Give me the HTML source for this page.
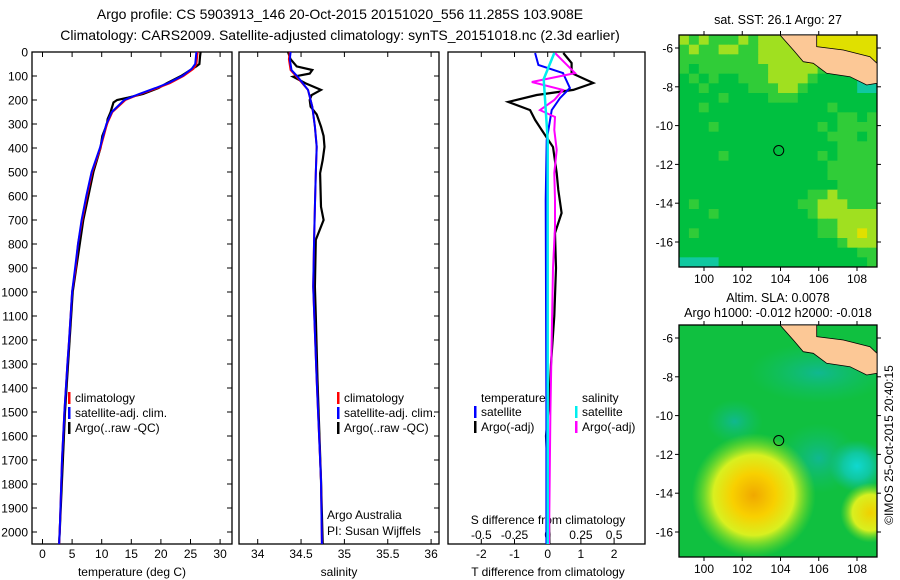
<!DOCTYPE html>
<html><head><meta charset="utf-8">
<style>
body{margin:0;background:#fff;}
svg{display:block;font-family:"Liberation Sans",sans-serif;}
</style></head>
<body>
<svg id="c" width="900" height="580" viewBox="0 0 900 580" xmlns="http://www.w3.org/2000/svg">
<rect width="900" height="580" fill="#fff"/>
<text x="340" y="19" font-size="14" text-anchor="middle">Argo profile: CS 5903913_146 20-Oct-2015 20151020_556 11.285S 103.908E</text>
<text x="340" y="40" font-size="14" text-anchor="middle">Climatology: CARS2009. Satellite-adjusted climatology: synTS_20151018.nc (2.3d earlier)</text>
<g id="g"></g>
</svg>
<script>
// ---------- data ----------
const depthTicks=[0,100,200,300,400,500,600,700,800,900,1000,1100,1200,1300,1400,1500,1600,1700,1800,1900,2000];
const tempTicks=[0,5,10,15,20,25,30];
const salTicks=[34,34.5,35,35.5,36];
const salTickLabels=["34","34.5","35","35.5","36"];
const tdTicks=[-2,-1,0,1,2];
const sdTicks=[-0.5,-0.25,0,0.25,0.5];
const sdTickLabels=["-0.5","-0.25","0","0.25","0.5"];

const tClimDepth=[0,50,70,100,130,150,175,200,250,300,400,500,600,700,800,900,1000,1200,1300,1500,1700,2000,2050];
const tClimVal=[26.2,26.0,25.5,23.8,21.5,19.4,16.5,14.0,11.8,10.9,9.8,8.4,7.5,6.7,6.0,5.6,5.0,4.5,4.2,3.7,3.3,2.9,2.8];
const tSatVal=[26.0,25.8,25.2,23.6,21.2,19.1,16.3,13.8,11.7,10.8,9.7,8.3,7.4,6.6,6.0,5.5,5.0,4.5,4.2,3.7,3.3,2.9,2.8];
const tArgoDepth=[0,20,50,60,70,100,130,150,175,190,200,210,250,280,300,350,400,500,700,1000,1500,2000,2050];
const tArgoVal=[26.7,26.6,26.5,26.0,25.3,23.4,21.0,19.6,17.0,14.5,12.6,12.0,11.5,11.0,10.9,10.1,9.8,8.6,6.9,5.1,3.8,2.9,2.8];

const sClimDepth=[0,30,75,103,158,228,311,395,505,645,783,978,1367,1783,2050];
const sClimVal=[34.37,34.36,34.38,34.45,34.58,34.63,34.66,34.68,34.67,34.66,34.65,34.64,34.68,34.73,34.74];
const sSatVal=[34.38,34.37,34.39,34.46,34.58,34.63,34.66,34.68,34.67,34.66,34.65,34.64,34.68,34.73,34.74];
const sArgoDepth=[0,30,60,75,90,103,130,158,180,200,228,260,311,350,395,450,505,645,700,783,978,1100,1367,1783,2050];
const sArgoVal=[34.35,34.38,34.45,34.63,34.60,34.41,34.55,34.73,34.62,34.60,34.61,34.68,34.73,34.76,34.77,34.75,34.72,34.73,34.76,34.67,34.66,34.67,34.69,34.73,34.75];

const tdSatDepth=[4,54,88,150,192,242,367,617,1000,1500,2050];
const tdSatVal=[-0.38,-0.28,0.46,0.67,0.37,0.12,-0.03,-0.06,-0.05,-0.04,-0.04];
const tdArgoDepth=[4,46,88,129,158,179,208,242,283,325,396,504,575,671,754,900,1100,1300,1450,1600,1800,2050];
const tdArgoVal=[0.47,0.72,0.72,1.37,0.77,-0.33,-1.19,-0.53,-0.38,-0.18,0.16,0.27,0.32,0.42,0.22,0.25,0.2,0.1,0.05,-0.05,0.02,0.05];
const sdArgoDepth=[4,88,125,158,200,242,271,325,408,504,617,729,900,1200,1500,2050];
const sdArgoVal=[0.055,0.206,-0.12,0.115,0.05,-0.058,0.055,0.05,0.068,0.05,0.055,0.055,0.04,0.03,0.02,0.01];
const sdSatDepth=[4,113,367,2050];
const sdSatVal=[0.05,-0.03,0.0,0.0];

const lonTicks=[100,102,104,106,108];
const latTicks=[-6,-8,-10,-12,-14,-16];
const sstGrid=[
"32322232333334444444",
"23223322333344444444",
"22222222333334444444",
"21222222233333244444",
"12121122233332111100",
"11211112223321111100",
"11112111122211111111",
"11211111111111121111",
"11111111111111112212",
"11121111111111212222",
"11111111111111122212",
"11111111111111112222",
"11112111111111212222",
"11111111111111122222",
"11111111111111122222",
"11111111111111112222",
"11111111111112232222",
"12111111111122333222",
"11121111111112333333",
"11111111111111223333",
"12111111111111223343",
"11111111111111112333",
"11111111111111111122",
"00001111111111111112"];
const floatLon=103.908, floatLat=-11.285;

// ---------- helpers ----------
const NS="http://www.w3.org/2000/svg";
const G=document.getElementById('g');
function mk(tag,attrs,parent){const e=document.createElementNS(NS,tag);for(const k in attrs)e.setAttribute(k,attrs[k]);(parent||G).appendChild(e);return e;}
function txt(x,y,s,size,anchor,name){const t=mk('text',{x:x,y:y,'font-size':size,'text-anchor':anchor||'start'});t.textContent=s;


return t;}
const Y0=52,Y1=544;
const yD=d=>Y0+d*0.24;
const xT=t=>42.5+t*5.92;
const xS=s=>257.7+(s-34)*86.7;
const xTd=v=>547.7+v*33.2;
const xSd=v=>547.7+v*132.8;
function line(depths,vals,fx,color,name,w){
  const pts=depths.map((d,i)=>fx(vals[i]).toFixed(1)+','+yD(d).toFixed(1)).join(' ');
  const p=mk('polyline',{points:pts,fill:'none',stroke:color,'stroke-width':w||2,'stroke-linejoin':'miter'});
  
  
}
function frame(x0,x1,name){
  const r=mk('rect',{x:x0,y:Y0,width:x1-x0,height:Y1-Y0,fill:'none',stroke:'#000','stroke-width':1.3});
  
  
}
function xticks(vals,labels,fx,name){
  vals.forEach((v,i)=>{const x=fx(v);
    mk('line',{x1:x,x2:x,y1:Y1,y2:Y1-5,stroke:'#000'});
    mk('line',{x1:x,x2:x,y1:Y0,y2:Y0+5,stroke:'#000'});
    txt(x,558,labels[i],12,'middle',name);});
}

// ---------- panel 1 temperature ----------
frame(32,232,'temperature-panel');
depthTicks.forEach(d=>{const y=yD(d);mk('line',{x1:32,x2:37,y1:y,y2:y,stroke:'#000'});mk('line',{x1:227,x2:232,y1:y,y2:y,stroke:'#000'});
 txt(28,y+4.5,String(d),12,'end','depth-tick-label');});
xticks(tempTicks,tempTicks.map(String),xT,'temperature-tick-label');
txt(132,576,'temperature (deg C)',12,'middle','temperature-axis-title');
line(tArgoDepth,tArgoVal,xT,'#000','argo-temperature-line',2.2);
line(tClimDepth,tClimVal,xT,'#f00','climatology-temperature-line');
line(tClimDepth,tSatVal,xT,'#00f','satellite-adj-temperature-line');

// ---------- panel 2 salinity ----------
frame(239,439,'salinity-panel');
depthTicks.forEach(d=>{const y=yD(d);mk('line',{x1:434,x2:439,y1:y,y2:y,stroke:'#000'});});
xticks(salTicks,salTickLabels,xS,'salinity-tick-label');
txt(339,576,'salinity',12,'middle','salinity-axis-title');
line(sArgoDepth,sArgoVal,xS,'#000','argo-salinity-line',2.2);
line(sClimDepth,sClimVal,xS,'#f00','climatology-salinity-line');
line(sClimDepth,sSatVal,xS,'#00f','satellite-adj-salinity-line');

// ---------- panel 3 differences ----------
frame(448,645,'difference-panel');
xticks(tdTicks,tdTicks.map(String),xTd,'t-difference-tick-label');
sdTicks.forEach((v,i)=>txt(xSd(v),539,sdTickLabels[i],12,'middle','s-difference-tick-label'));
txt(548,524,'S difference from climatology',12,'middle','s-difference-axis-title');
txt(548,576,'T difference from climatology',12,'middle','t-difference-axis-title');
line(tdArgoDepth,tdArgoVal,xTd,'#000','argo-t-difference-line',2.2);
line(tdSatDepth,tdSatVal,xTd,'#00f','satellite-t-difference-line');
line(sdArgoDepth,sdArgoVal,xSd,'#f0f','argo-s-difference-line');
line(sdSatDepth,sdSatVal,xSd,'#0ee','satellite-s-difference-line',2.5);

// ---------- legends ----------
function leg(x,y,color,label,name){
  if(color)mk('rect',{x:x-7,y:y-10,width:2.5,height:12,fill:color});
  txt(x,y,label,12,'start',name);
}
leg(75,402,'#f00','climatology','legend-climatology');
leg(75,417,'#00f','satellite-adj. clim.','legend-satellite-adj');
leg(75,432,'#000','Argo(..raw -QC)','legend-argo');
leg(344,402,'#f00','climatology','legend-climatology-sal');
leg(344,417,'#00f','satellite-adj. clim.','legend-satellite-adj-sal');
leg(344,432,'#000','Argo(..raw -QC)','legend-argo-sal');
leg(481,402,null,'temperature','legend-temperature-header');
leg(481,416,'#00f','satellite','legend-t-satellite');
leg(481,431,'#000','Argo(-adj)','legend-t-argo');
leg(582,402,null,'salinity','legend-salinity-header');
leg(582,416,'#0ee','satellite','legend-s-satellite');
leg(582,431,'#f0f','Argo(-adj)','legend-s-argo');
txt(327,519,'Argo Australia',12,'start','credit-argo-australia');
txt(327,535,'PI: Susan Wijffels',12,'start','credit-pi');

// ---------- maps ----------
const MX0=679,MX1=877;
const mLon=lon=>704+(lon-100)*19.125;
function mLat(lat,top){return top+13+(-6-lat)*19.4;}
const sstColors=['#10c8a0','#00c040','#30cc38','#a0e020','#e0e000'];
const landPts=[[780,35],[816.7,35],[816.7,46.7],[843.3,50],[870,56.7],[877,63.3],[877,83.3],[866.7,85],[850,76.7],[826.7,73.3],[813.3,63.3],[803.3,61.7],[793.3,50]];
function mapAxes(top,name){
  const bottom=top+232;
  const r=mk('rect',{x:MX0,y:top,width:MX1-MX0,height:bottom-top,fill:'none',stroke:'#000','stroke-width':1.3});
  
  
  lonTicks.forEach(l=>{const x=mLon(l);mk('line',{x1:x,x2:x,y1:bottom,y2:bottom+4,stroke:'#000'});mk('line',{x1:x,x2:x,y1:top,y2:top-4,stroke:'#000'});txt(x,bottom+16,String(l),12,'middle','longitude-tick-label');});
  latTicks.forEach(l=>{const y=mLat(l,top);mk('line',{x1:MX0,x2:MX0-4,y1:y,y2:y,stroke:'#000'});mk('line',{x1:MX1,x2:MX1+4,y1:y,y2:y,stroke:'#000'});txt(MX0-6,y+4.5,String(l),12,'end','latitude-tick-label');});
  const lp=mk('polygon',{points:landPts.map(p=>p[0]+','+(p[1]-35+top)).join(' '),fill:'#fcc896',stroke:'#000','stroke-width':0.8});
  
  
  const c=mk('circle',{cx:mLon(floatLon),cy:mLat(floatLat,top),r:5,fill:'none',stroke:'#000','stroke-width':1});
  
  
}
// SST map
const T1=35;
const nr=sstGrid.length,nc=sstGrid[0].length;
const cw=(MX1-MX0)/nc,ch=232/nr;
sstGrid.forEach((row,i)=>row.split('').forEach((v,j)=>{
  const r=mk('rect',{x:MX0+j*cw,y:T1+i*ch,width:cw+0.5,height:ch+0.5,fill:sstColors[+v]});
  
  
}));
mapAxes(T1,'sst-map');
txt(778,24,'sat. SST: 26.1  Argo: 27',12.5,'middle','sst-map-title');

// SLA map
const T2=325;
const defs=mk('defs',{});
function grad(id,stops){const g=mk('radialGradient',{id:id},defs);stops.forEach(s=>mk('stop',{offset:s[0],'stop-color':s[1],'stop-opacity':s[2]},g));}
grad('gYel',[[0,'#f0a800',1],[0.35,'#f8d000',1],[0.65,'#d8f020',1],[1,'#80e020',0]]);
grad('gYel2',[[0,'#f0d000',1],[0.6,'#d8f020',1],[1,'#80e020',0]]);
grad('gCy',[[0,'#10d8d0',1],[0.5,'#10c8a0',1],[1,'#10c090',0]]);
grad('gTeal',[[0,'#10b890',1],[1,'#10c070',0]]);
mk('rect',{x:MX0,y:T2,width:MX1-MX0,height:232,fill:'#10c040'});
const cp=mk('clipPath',{id:'clipSla'},defs);
mk('rect',{x:MX0,y:T2,width:MX1-MX0,height:232},cp);
const sg=mk('g',{'clip-path':'url(#clipSla)'});


mk('ellipse',{cx:mLon(106),cy:mLat(-7.8,T2),rx:70,ry:30,fill:'url(#gTeal)'},sg);
mk('ellipse',{cx:mLon(101.6),cy:mLat(-10.3,T2),rx:28,ry:22,fill:'url(#gTeal)'},sg);
mk('ellipse',{cx:mLon(106),cy:mLat(-12.2,T2),rx:40,ry:35,fill:'url(#gTeal)'},sg);
mk('ellipse',{cx:mLon(108),cy:mLat(-12.6,T2),rx:28,ry:26,fill:'url(#gCy)'},sg);
mk('ellipse',{cx:mLon(102.6),cy:mLat(-14.1,T2),rx:62,ry:62,fill:'url(#gYel)'},sg);
mk('ellipse',{cx:mLon(108.7),cy:mLat(-15,T2),rx:30,ry:30,fill:'url(#gYel2)'},sg);
mapAxes(T2,'sla-map');
txt(778,302,'Altim. SLA: 0.0078',12.5,'middle','sla-map-title');
txt(778,317,'Argo h1000: -0.012 h2000: -0.018',12.5,'middle','sla-map-subtitle');
const v=txt(0,0,'©IMOS 25-Oct-2015 20:40:15',12,'middle','imos-timestamp');
v.setAttribute('transform','translate(893,445) rotate(-90)');
</script>
</body></html>
